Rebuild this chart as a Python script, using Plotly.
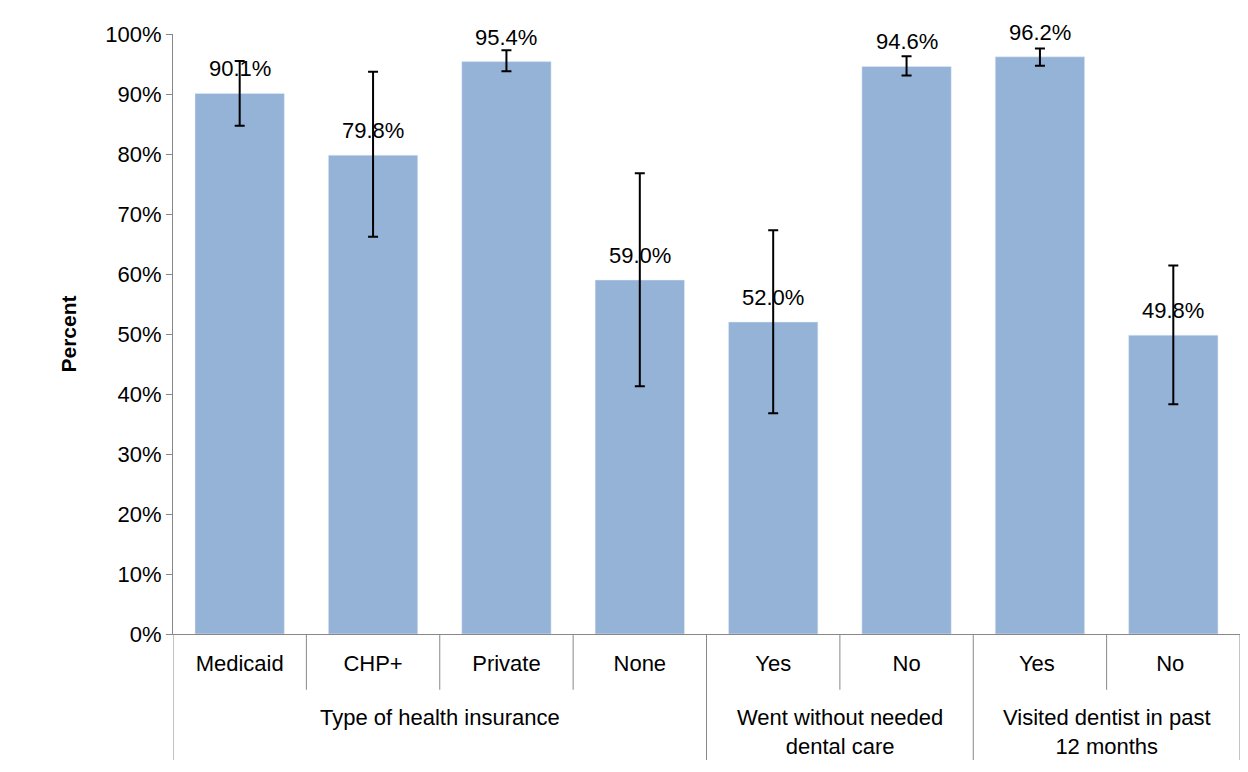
import plotly.graph_objects as go

categories = ["Medicaid", "CHP+", "Private", "None", "Yes", "No", "Yes ", "No "]
values = [90.1, 79.8, 95.4, 59.0, 52.0, 94.6, 96.2, 49.8]
upper = [95.5, 93.7, 97.3, 76.8, 67.3, 96.3, 97.6, 61.4]
lower = [84.7, 66.2, 93.8, 41.3, 36.8, 93.1, 94.7, 38.3]
groups = ["Type of health insurance", "Went without needed<br>dental care",
          "Visited dentist in past<br>12 months"]
group_spans = [(0, 3), (4, 5), (6, 7)]

font = "Liberation Sans, Arial, sans-serif"
fig = go.Figure(go.Bar(
    x=categories, y=values,
    marker_color="#95B3D7",
    error_y=dict(type="data", symmetric=False,
                 array=[u - v for u, v in zip(upper, values)],
                 arrayminus=[v - l for v, l in zip(values, lower)],
                 color="black", thickness=2, width=5),
))

shapes = []
for b in [-0.5, 0.5, 1.5, 2.5, 3.5, 4.5, 5.5, 6.5, 7.5]:
    bottom = -0.21 if b in (-0.5, 3.5, 5.5, 7.5) else -0.093
    shapes.append(dict(type="line", xref="x", yref="paper", x0=b, x1=b,
                       y0=0, y1=bottom, line=dict(color="#888", width=1)))
annotations = []
for c, v in zip(categories, values):
    annotations.append(dict(x=c, y=v, text=f"{v:.1f}%", showarrow=False,
                            yanchor="bottom", yshift=10,
                            font=dict(size=22, color="black")))
for g, (a, b) in zip(groups, group_spans):
    annotations.append(dict(x=(a + b) / 2, y=-0.115, xref="x", yref="paper",
                            text=g, showarrow=False, yanchor="top",
                            font=dict(size=22, color="black")))

fig.update_layout(
    width=1248, height=772,
    margin=dict(l=165, r=16, t=26, b=146),
    plot_bgcolor="white", paper_bgcolor="white",
    font=dict(family=font, color="black"),
    bargap=0.33, showlegend=False,
    shapes=shapes, annotations=annotations,
    xaxis=dict(showline=True, linecolor="#888", tickfont=dict(size=22),
               ticks="", range=[-0.5, 7.5], ticklabelstandoff=10),
    yaxis=dict(range=[0, 100], dtick=10, ticksuffix="%", showgrid=False,
               showline=True, linecolor="#888", ticks="outside", ticklen=6,
               tickcolor="#888", tickfont=dict(size=22),
               title=dict(text="<b>Percent</b>", font=dict(size=21), standoff=22)),
)
fig.write_html("out.html")
